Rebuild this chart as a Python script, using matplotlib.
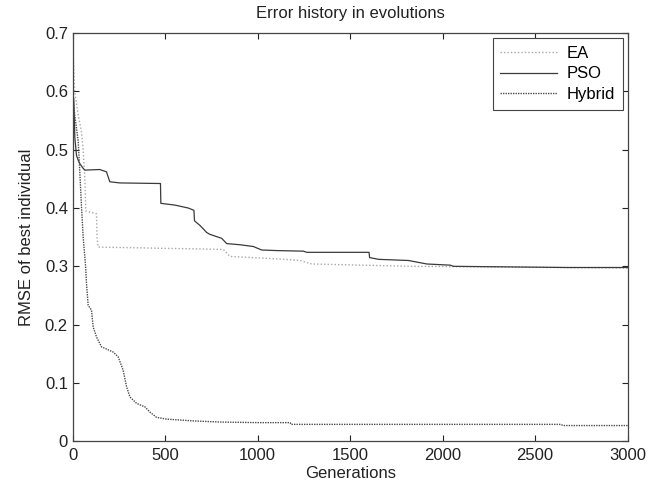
import matplotlib
matplotlib.use("Agg")
import matplotlib.pyplot as plt

plt.rcParams["font.family"] = ["Liberation Sans", "DejaVu Sans"]

# EA (light dotted)
ea_gen = [0, 10, 29, 47, 56, 65, 70, 128, 131, 137, 814, 850, 1148, 1229, 1292, 1840, 3000]
ea_val = [0.68, 0.60, 0.56, 0.53, 0.50, 0.45, 0.395, 0.39, 0.35, 0.333, 0.329, 0.317,
          0.312, 0.310, 0.304, 0.300, 0.297]

# PSO (solid)
pso_gen = [0, 5, 11, 20, 29, 38, 56, 65, 146, 182, 200, 254, 474, 476, 552, 624, 655,
           658, 688, 724, 740, 805, 832, 904, 976, 1021, 1103, 1247, 1265, 1602, 1605,
           1653, 1815, 1915, 2041, 2059, 2673, 3000]
pso_val = [0.59, 0.588, 0.52, 0.49, 0.482, 0.476, 0.468, 0.465, 0.466, 0.462, 0.445,
           0.443, 0.442, 0.408, 0.405, 0.400, 0.396, 0.378, 0.370, 0.358, 0.355, 0.348,
           0.339, 0.337, 0.334, 0.328, 0.327, 0.326, 0.324, 0.324, 0.315, 0.312, 0.310,
           0.304, 0.302, 0.300, 0.298, 0.298]

# Hybrid (dark dotted)
hyb_gen = [0, 10, 29, 38, 47, 56, 69, 74, 83, 101, 110, 128, 155, 218, 245, 272, 291,
           309, 345, 390, 417, 453, 507, 651, 796, 1000, 1175, 1180, 2640, 2650, 3000]
hyb_val = [0.59, 0.56, 0.515, 0.46, 0.402, 0.35, 0.30, 0.27, 0.233, 0.225, 0.196, 0.179,
           0.162, 0.153, 0.145, 0.122, 0.093, 0.076, 0.065, 0.059, 0.050, 0.041, 0.038,
           0.035, 0.033, 0.032, 0.032, 0.029, 0.029, 0.027, 0.027]

y_ticks = [0, 0.1, 0.2, 0.3, 0.4, 0.5, 0.6, 0.7]
y_labels = ["0", "0.1", "0.2", "0.3", "0.4", "0.5", "0.6", "0.7"]
x_ticks = [0, 500, 1000, 1500, 2000, 2500, 3000]

fig = plt.figure(figsize=(6.62, 4.86), dpi=100)
ax = fig.add_axes([0.110, 0.092, 0.838, 0.840])

ax.plot(ea_gen, ea_val, linestyle=(0, (1, 1.5)), color="#a8a8a8", lw=1.0, label="EA")
ax.plot(pso_gen, pso_val, linestyle="-", color="#3a3a3a", lw=0.9, label="PSO")
ax.plot(hyb_gen, hyb_val, linestyle=(0, (1, 0.8)), color="#4a4a4a", lw=1.0, label="Hybrid")

ax.set_xlim(0, 3000)
ax.set_ylim(0, 0.7)
ax.set_xticks(x_ticks)
ax.set_yticks(y_ticks)
ax.set_yticklabels(y_labels)
ax.tick_params(direction="in", top=True, right=True, length=4, labelsize=12,
               colors="#222222")
ax.tick_params(axis="x", pad=5)
for s in ax.spines.values():
    s.set_color("#444444")
    s.set_linewidth(0.9)

ax.set_title("Error history in evolutions", fontsize=12, color="#222222", pad=11)
ax.set_xlabel("Generations", fontsize=12, color="#222222", labelpad=2)
ax.set_ylabel("RMSE of best individual", fontsize=12, color="#222222", labelpad=8)

leg = ax.legend(loc="upper right", fontsize=12, fancybox=False, framealpha=1,
                edgecolor="#444444", handlelength=3.4, borderaxespad=0.3,
                labelspacing=0.35, borderpad=0.45, handletextpad=0.6)
leg.get_frame().set_linewidth(0.8)

fig.savefig("out.png", dpi=100)
